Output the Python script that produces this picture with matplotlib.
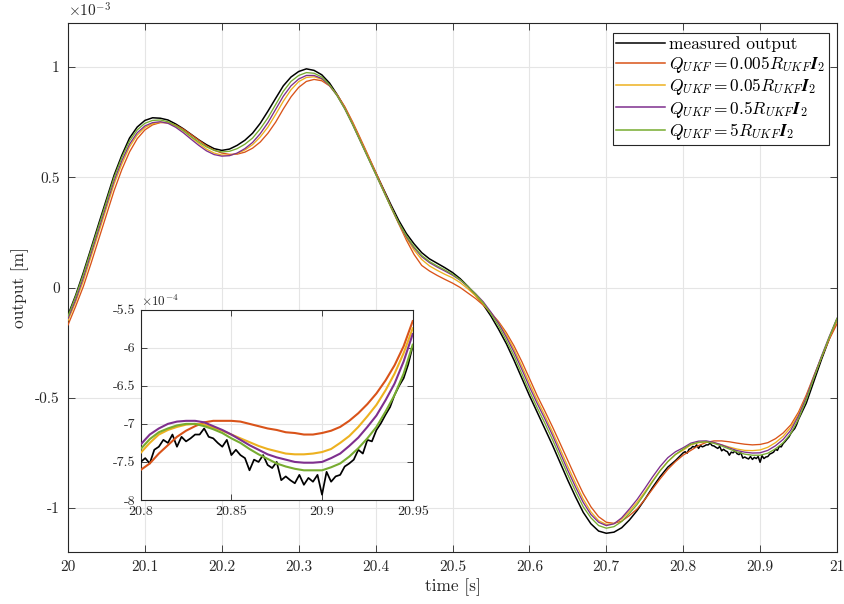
import numpy as np
import matplotlib
matplotlib.use("Agg")
import matplotlib.pyplot as plt

# ---------------- data (output in units of 1e-3 m) ----------------
t_main = np.round(20.0 + 0.01 * np.arange(101), 2)

measured_main = [
    -0.125, -0.035, 0.068, 0.178, 0.290, 0.400, 0.510, 0.600, 0.678, 0.728,
    0.758, 0.770, 0.768, 0.760, 0.742, 0.720, 0.695, 0.670, 0.648, 0.630,
    0.622, 0.628, 0.645, 0.668, 0.700, 0.745, 0.800, 0.858, 0.915, 0.955,
    0.980, 0.992, 0.985, 0.965, 0.928, 0.875, 0.815, 0.745, 0.670, 0.595,
    0.522, 0.448, 0.375, 0.305, 0.245, 0.198, 0.158, 0.130, 0.110, 0.090,
    0.068, 0.040, 0.005, -0.035, -0.078, -0.130, -0.190, -0.255, -0.330, -0.410,
    -0.490, -0.565, -0.640, -0.715, -0.795, -0.875, -0.950, -1.020, -1.072, -1.105,
    -1.115, -1.110, -1.090, -1.055, -1.012, -0.962, -0.908, -0.858, -0.815, -0.785,
    -0.755, -0.735, -0.725, -0.715, -0.725, -0.741, -0.750, -0.755, -0.774, -0.775,
    -0.790, -0.770, -0.752, -0.720, -0.662, -0.598, -0.525, -0.425, -0.325, -0.232,
    -0.145]

q0005_main = [
    -0.170, -0.085, 0.005, 0.110, 0.220, 0.330, 0.440, 0.535, 0.615, 0.675,
    0.715, 0.738, 0.748, 0.748, 0.737, 0.718, 0.694, 0.668, 0.643, 0.623,
    0.610, 0.604, 0.605, 0.614, 0.632, 0.660, 0.700, 0.750, 0.810, 0.865,
    0.908, 0.935, 0.944, 0.938, 0.915, 0.875, 0.820, 0.752, 0.678, 0.602,
    0.525, 0.447, 0.368, 0.290, 0.215, 0.150, 0.100, 0.075, 0.055, 0.037,
    0.020, 0.000, -0.025, -0.050, -0.080, -0.115, -0.155, -0.205, -0.265, -0.335,
    -0.412, -0.490, -0.560, -0.632, -0.708, -0.785, -0.862, -0.935, -0.995, -1.040,
    -1.065, -1.070, -1.060, -1.035, -1.005, -0.962, -0.915, -0.868, -0.825, -0.790,
    -0.7605, -0.739, -0.717, -0.703, -0.696, -0.696, -0.700, -0.706, -0.711, -0.714,
    -0.712, -0.704, -0.686, -0.660, -0.623, -0.565, -0.488, -0.400, -0.315, -0.235,
    -0.165]

q005_main = [
    -0.150, -0.065, 0.030, 0.140, 0.250, 0.360, 0.470, 0.560, 0.638, 0.692,
    0.726, 0.743, 0.750, 0.747, 0.732, 0.710, 0.682, 0.654, 0.628, 0.610,
    0.601, 0.600, 0.608, 0.624, 0.648, 0.683, 0.728, 0.785, 0.845, 0.897,
    0.934, 0.953, 0.956, 0.945, 0.917, 0.872, 0.813, 0.745, 0.670, 0.595,
    0.518, 0.440, 0.363, 0.290, 0.225, 0.170, 0.127, 0.098, 0.078, 0.060,
    0.044, 0.022, -0.006, -0.038, -0.074, -0.115, -0.160, -0.215, -0.280, -0.355,
    -0.433, -0.510, -0.580, -0.655, -0.733, -0.812, -0.888, -0.960, -1.018, -1.058,
    -1.075, -1.071, -1.050, -1.015, -0.975, -0.928, -0.878, -0.830, -0.790, -0.758,
    -0.738, -0.714, -0.704, -0.700, -0.705, -0.714, -0.724, -0.733, -0.739, -0.740,
    -0.737, -0.725, -0.704, -0.675, -0.634, -0.5745, -0.497, -0.405, -0.315, -0.228,
    -0.148]

q05_main = [
    -0.140, -0.055, 0.045, 0.155, 0.265, 0.375, 0.485, 0.575, 0.650, 0.702,
    0.733, 0.748, 0.752, 0.745, 0.727, 0.702, 0.673, 0.645, 0.620, 0.603,
    0.596, 0.598, 0.610, 0.630, 0.658, 0.698, 0.748, 0.808, 0.868, 0.915,
    0.946, 0.962, 0.962, 0.948, 0.917, 0.870, 0.810, 0.740, 0.665, 0.590,
    0.515, 0.440, 0.365, 0.293, 0.230, 0.180, 0.140, 0.113, 0.093, 0.075,
    0.056, 0.033, 0.004, -0.028, -0.065, -0.112, -0.163, -0.225, -0.293, -0.370,
    -0.450, -0.525, -0.595, -0.670, -0.750, -0.830, -0.905, -0.975, -1.030, -1.065,
    -1.080, -1.072, -1.045, -1.005, -0.962, -0.912, -0.860, -0.812, -0.772, -0.745,
    -0.727, -0.706, -0.697, -0.696, -0.703, -0.714, -0.728, -0.740, -0.747, -0.751,
    -0.750, -0.739, -0.718, -0.689, -0.647, -0.582, -0.500, -0.403, -0.310, -0.222,
    -0.140]

q5_main = [
    -0.130, -0.040, 0.060, 0.170, 0.280, 0.390, 0.500, 0.590, 0.665, 0.715,
    0.745, 0.758, 0.760, 0.752, 0.735, 0.712, 0.685, 0.660, 0.638, 0.622,
    0.615, 0.618, 0.630, 0.650, 0.678, 0.720, 0.770, 0.830, 0.890, 0.935,
    0.962, 0.975, 0.972, 0.955, 0.920, 0.870, 0.810, 0.740, 0.665, 0.590,
    0.515, 0.440, 0.365, 0.295, 0.235, 0.185, 0.145, 0.118, 0.098, 0.080,
    0.060, 0.035, 0.005, -0.030, -0.070, -0.120, -0.175, -0.240, -0.310, -0.390,
    -0.470, -0.545, -0.615, -0.690, -0.770, -0.850, -0.925, -0.995, -1.045, -1.080,
    -1.092, -1.085, -1.062, -1.025, -0.985, -0.935, -0.882, -0.832, -0.790, -0.757,
    -0.733, -0.711, -0.702, -0.700, -0.707, -0.719, -0.733, -0.746, -0.756, -0.761,
    -0.761, -0.752, -0.732, -0.704, -0.662, -0.596, -0.510, -0.410, -0.315, -0.225,
    -0.140]

# ---------------- inset data (units of 1e-4 m) ----------------
t_in_meas = np.round(20.8 + 0.0025 * np.arange(61), 4)
measured_in = [
    -7.50, -7.45, -7.52, -7.34, -7.30, -7.21, -7.25, -7.14, -7.30, -7.17,
    -7.23, -7.19, -7.14, -7.14, -7.06, -7.17, -7.19, -7.25, -7.30, -7.21,
    -7.41, -7.34, -7.41, -7.45, -7.61, -7.47, -7.50, -7.41, -7.54, -7.58,
    -7.50, -7.74, -7.69, -7.74, -7.78, -7.67, -7.80, -7.71, -7.76, -7.67,
    -7.93, -7.63, -7.76, -7.69, -7.67, -7.56, -7.52, -7.47, -7.34, -7.39,
    -7.21, -7.23, -7.08, -6.99, -6.88, -6.78, -6.62, -6.50, -6.40, -6.22,
    -5.98]

t_in = np.round(20.8 + 0.005 * np.arange(31), 3)
q0005_in = [-7.605, -7.52, -7.39, -7.28, -7.17, -7.09, -7.03, -6.98, -6.96, -6.96,
            -6.96, -6.97, -7.00, -7.03, -7.06, -7.08, -7.11, -7.12, -7.14, -7.14,
            -7.12, -7.09, -7.04, -6.96, -6.86, -6.74, -6.60, -6.43, -6.23, -5.98,
            -5.65]
q005_in = [-7.38, -7.25, -7.14, -7.08, -7.04, -7.01, -7.00, -7.01, -7.05, -7.09,
           -7.14, -7.19, -7.24, -7.29, -7.33, -7.36, -7.39, -7.40, -7.40, -7.39,
           -7.37, -7.33, -7.25, -7.16, -7.04, -6.90, -6.75, -6.56, -6.34, -6.07,
           -5.745]
q05_in = [-7.27, -7.14, -7.06, -7.00, -6.97, -6.96, -6.96, -6.98, -7.03, -7.08,
          -7.14, -7.21, -7.28, -7.34, -7.40, -7.44, -7.47, -7.50, -7.51, -7.51,
          -7.50, -7.45, -7.39, -7.29, -7.18, -7.04, -6.89, -6.69, -6.47, -6.18,
          -5.82]
q5_in = [-7.33, -7.20, -7.11, -7.06, -7.02, -7.00, -7.00, -7.03, -7.07, -7.12,
         -7.19, -7.25, -7.33, -7.40, -7.46, -7.52, -7.56, -7.59, -7.61, -7.61,
         -7.61, -7.57, -7.52, -7.43, -7.32, -7.19, -7.04, -6.84, -6.62, -6.34,
         -5.96]

labels = ["measured output",
          r"$Q_{UKF} = 0.005R_{UKF}\mathbfit{I}_2$",
          r"$Q_{UKF} = 0.05R_{UKF}\mathbfit{I}_2$",
          r"$Q_{UKF} = 0.5R_{UKF}\mathbfit{I}_2$",
          r"$Q_{UKF} = 5R_{UKF}\mathbfit{I}_2$"]
colors = ["black", "#D95319", "#EDB120", "#7E2F8E", "#77AC30"]

xticks = [20, 20.1, 20.2, 20.3, 20.4, 20.5, 20.6, 20.7, 20.8, 20.9, 21]
xticklabels = ["20", "20.1", "20.2", "20.3", "20.4", "20.5", "20.6", "20.7", "20.8", "20.9", "21"]
yticks = [-1, -0.5, 0, 0.5, 1]
yticklabels = ["-1", "-0.5", "0", "0.5", "1"]
in_xticks = [20.8, 20.85, 20.9, 20.95]
in_xticklabels = ["20.8", "20.85", "20.9", "20.95"]
in_yticks = [-8, -7.5, -7, -6.5, -6, -5.5]
in_yticklabels = ["-8", "-7.5", "-7", "-6.5", "-6", "-5.5"]

# ---------------- style ----------------
plt.rcParams["font.family"] = "serif"
plt.rcParams["font.serif"] = ["cmr10"]
plt.rcParams["mathtext.fontset"] = "cm"
plt.rcParams["axes.unicode_minus"] = False
plt.rcParams["axes.formatter.use_mathtext"] = True

AX_C = "#262626"
GRID_C = "#e5e5e5"

fig = plt.figure(figsize=(8.44, 6.04), dpi=100)
ax = fig.add_axes([68 / 844, 1 - 552 / 604, 769 / 844, 529 / 604])

# main measured: coarse outside inset window, fine inside
tm = np.array(t_main)
mm = np.array(measured_main)
sel_lo = tm < 20.8 - 1e-9
sel_hi = tm > 20.95 + 1e-9
t_meas = np.concatenate([tm[sel_lo], t_in_meas, tm[sel_hi]])
v_meas = np.concatenate([mm[sel_lo], np.array(measured_in) / 10.0, mm[sel_hi]])

series_main = [q0005_main, q005_main, q05_main, q5_main]
ax.plot(t_meas, v_meas, color=colors[0], lw=1.1, label=labels[0], zorder=3)
for s, c, l in zip(series_main, colors[1:], labels[1:]):
    ax.plot(t_main, s, color=c, lw=0.95, label=l, zorder=3)

ax.set_xlim(20, 21)
ax.set_ylim(-1.2, 1.2)
ax.set_xticks(xticks)
ax.set_xticklabels(xticklabels)
ax.set_yticks(yticks)
ax.set_yticklabels(yticklabels)
ax.grid(True, color=GRID_C, lw=0.8)
ax.set_axisbelow(True)
ax.tick_params(direction="in", length=5, width=0.6, top=True, right=True,
               colors=AX_C, labelsize=11, pad=6)
for sp in ax.spines.values():
    sp.set_color(AX_C)
    sp.set_linewidth(0.8)
ax.set_xlabel("time [s]", fontsize=12.5, color=AX_C, labelpad=3)
ax.set_ylabel("output [m]", fontsize=12.5, color=AX_C, labelpad=4)
ax.text(0.0, 1.006, r"$\times10^{-3}$", transform=ax.transAxes, fontsize=11,
        ha="left", va="bottom", color=AX_C)

leg = ax.legend(loc="upper right", bbox_to_anchor=(0.989, 0.981), frameon=True,
                fancybox=False, edgecolor=AX_C, framealpha=1, fontsize=12.5,
                handlelength=2.8, borderpad=0.2, labelspacing=0.08,
                handletextpad=0.25, borderaxespad=0)
leg.get_frame().set_linewidth(0.8)
for ln in leg.get_lines():
    ln.set_linewidth(1.1)

# ---------------- inset ----------------
axi = fig.add_axes([140.7 / 844, 1 - 500 / 604, 272 / 844, 190.3 / 604])
axi.set_facecolor("white")
axi.plot(t_in_meas, measured_in, color=colors[0], lw=1.25, zorder=3)
for s, c in zip([q0005_in, q005_in, q05_in, q5_in], colors[1:]):
    axi.plot(t_in, s, color=c, lw=1.5, zorder=3)
axi.set_xlim(20.8, 20.95)
axi.set_ylim(-8, -5.5)
axi.set_xticks(in_xticks)
axi.set_xticklabels(in_xticklabels)
axi.set_yticks(in_yticks)
axi.set_yticklabels(in_yticklabels)
axi.grid(True, color=GRID_C, lw=0.8)
axi.set_axisbelow(True)
axi.tick_params(direction="in", length=4, width=0.6, top=True, right=True,
                colors=AX_C, labelsize=10, pad=4)
for sp in axi.spines.values():
    sp.set_color(AX_C)
    sp.set_linewidth(0.8)
axi.text(0.0, 1.005, r"$\times10^{-4}$", transform=axi.transAxes, fontsize=9.5,
         ha="left", va="bottom", color=AX_C)

fig.savefig("out.png", dpi=100)
